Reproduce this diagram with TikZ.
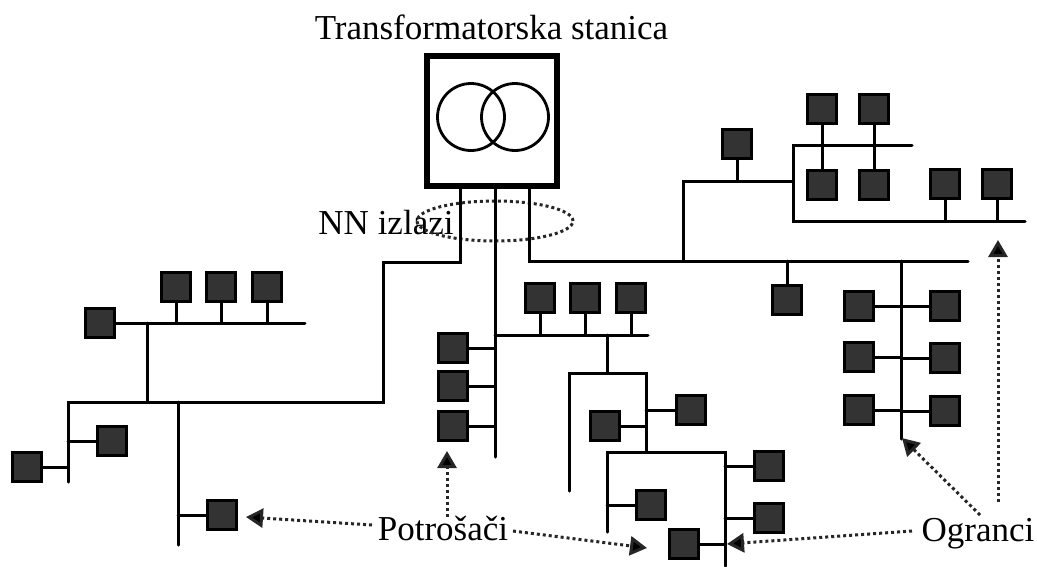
\documentclass[tikz,border=0pt]{standalone}
\usepackage{fontspec}
\setmainfont{Liberation Serif}
\usetikzlibrary{arrows.meta,shapes.geometric,calc}
\tikzset{
  x=1pt,y=-1pt,
  load/.style={draw=black,fill=black!80,line width=2.5pt,minimum size=29pt,inner sep=0pt,outer sep=0pt},
  wire/.style={draw=black,line width=3pt,line cap=round,line join=miter},
  pointer/.style={draw=black!85,line width=3pt,dash pattern=on 3pt off 3pt,-{Triangle[length=17pt,width=19pt,fill=black]}},
  label/.style={inner sep=0pt,outer sep=0pt,font=\fontsize{35}{35}\selectfont,text=black},
  coil/.style={circle,draw=black,line width=2.8pt,minimum size=67pt,inner sep=0pt},
}
\begin{document}
\begin{tikzpicture}
\useasboundingbox (0,0) rectangle (1037,566);
% labels
\node[label] (title) at (491.5,27) {Transformatorska stanica};
\node[label] (nn) at (386,223) {NN izlazi};
\node[label] (potro) at (443,528) {Potrošači};
\node[label] (ogr) at (978,534) {Ogranci};
% station
\node[draw=black,line width=5.5pt,minimum size=130pt,inner sep=0pt] (ts) at (492,121) {};
\node[coil] (c1) at (471,117) {};
\node[coil] (c2) at (515,117) {};
\node[ellipse,draw=black!85,line width=3pt,dash pattern=on 3pt off 3pt,minimum width=156pt,minimum height=40pt,inner sep=0pt] (zone) at (495,221) {};
% trunk coordinates
\foreach \n/\x/\y in {o1/460/186,o2/495/186,o3/529/186,
  a1/460/262,a2/383/262,a3/383/402,a4/68/402,a5/68/482,
  a6/147/402,a7/147/323,a8/100/323,a9/305/323,a10/178/402,a11/178/545,
  m1/495/457,m2/495/335,m3/648/335,m4/607/335,m5/607/373,m6/569/373,m7/569/491,m8/646/373,m9/646/452,
  m10/607/452,m11/607/532,m12/725/452,m13/725/566,
  r1/529/261,r2/968/261,r3/683/261,r4/683/181,r5/793/181,r6/793/145,r7/793/221,r8/912/145,r9/1025/221,
  r10/787/261,r11/901/261,r12/901/439,
  p1/372/525,p2/447/517,p3/513/531,p4/246/517,p5/447/451,p6/647/548,
  g1/912/531,g2/980/515,g3/998/502,g4/727/544,g5/902/438,g6/998/240}
  {\coordinate (\n) at (\x,\y);}
% loads
\foreach \n/\x/\y in {
  s1/100/323,s2/176/287,s3/221/287,s4/267/287,s5/112/441,s6/27/467,s7/222/515,
  t1/540/298,t2/585/298,t3/631/298,t4/453/348,t5/453/386,t6/453/426,
  u1/691/410,u2/605/426,u3/651/505,u4/769/466,u5/769/518,u6/684/544,
  v1/737/144,v2/822/109,v3/874/109,v4/822/185,v5/874/185,v6/945/184,v7/997/184,v8/787/300,
  w1/859/306,w2/859/357,w3/859/410,w4/945/306,w5/945/358,w6/945/411}
  {\node[load] (\n) at (\x,\y) {};}
% left branch
\draw[wire] (o1) -- (a1) -- (a2) -- (a3) -- (a4) -- (a5);
\draw[wire] (a6) -- (a7);
\draw[wire] (s1) -- (a9);
\draw[wire] (a10) -- (a11);
\draw[wire] (s2) -- (s2 |- a9);
\draw[wire] (s3) -- (s3 |- a9);
\draw[wire] (s4) -- (s4 |- a9);
\draw[wire] (s5) -- (s5 -| a4);
\draw[wire] (s6) -- (s6 -| a4);
\draw[wire] (s7) -- (s7 -| a10);
% middle branch
\draw[wire] (o2) -- (m1);
\draw[wire] (m2) -- (m3);
\draw[wire] (t1) -- (t1 |- m2);
\draw[wire] (t2) -- (t2 |- m2);
\draw[wire] (t3) -- (t3 |- m2);
\draw[wire] (t4) -- (t4 -| m1);
\draw[wire] (t5) -- (t5 -| m1);
\draw[wire] (t6) -- (t6 -| m1);
\draw[wire] (m4) -- (m5);
\draw[wire] (m7) -- (m6) -- (m8) -- (m9);
\draw[wire] (m11) -- (m10) -- (m12) -- (m13);
\draw[wire] (u1) -- (u1 -| m8);
\draw[wire] (u2) -- (u2 -| m8);
\draw[wire] (u3) -- (u3 -| m10);
\draw[wire] (u4) -- (u4 -| m12);
\draw[wire] (u5) -- (u5 -| m12);
\draw[wire] (u6) -- (u6 -| m12);
% right branch
\draw[wire] (o3) -- (r1) -- (r2);
\draw[wire] (r3) -- (r4) -- (r5);
\draw[wire] (r8) -- (r6) -- (r7) -- (r9);
\draw[wire] (v1) -- (v1 |- r4);
\draw[wire] (v2) -- (v4);
\draw[wire] (v3) -- (v5);
\draw[wire] (v6) -- (v6 |- r9);
\draw[wire] (v7) -- (v7 |- r9);
\draw[wire] (r10) -- (v8);
\draw[wire] (r11) -- (r12);
\draw[wire] (w1) -- (w1 -| r11);
\draw[wire] (w2) -- (w2 -| r11);
\draw[wire] (w3) -- (w3 -| r11);
\draw[wire] (w4) -- (w4 -| r11);
\draw[wire] (w5) -- (w5 -| r11);
\draw[wire] (w6) -- (w6 -| r11);
% pointers
\draw[pointer] (p1) -- (p4);
\draw[pointer] (p2) -- (p5);
\draw[pointer] (p3) -- (p6);
\draw[pointer] (g1) -- (g4);
\draw[pointer] (g2) -- (g5);
\draw[pointer] (g3) -- (g6);
\end{tikzpicture}
\end{document}
